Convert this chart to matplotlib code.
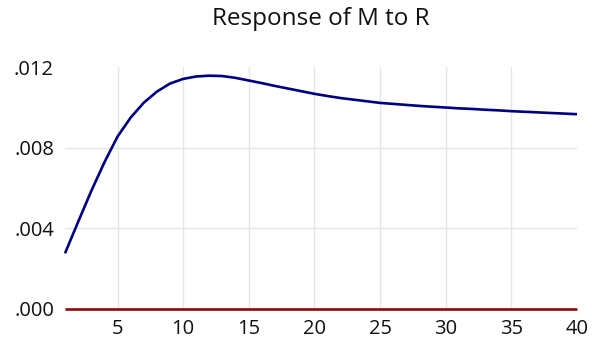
import matplotlib
matplotlib.use("Agg")
import matplotlib.pyplot as plt
import numpy as np

plt.rcParams['font.family'] = ['Open Sans', 'DejaVu Sans']

periods = list(range(1, 41))
response = [0.00276, 0.00432, 0.00585, 0.00727, 0.00855, 0.00949, 0.01023, 0.01078,
            0.01118, 0.01141, 0.01153, 0.01157, 0.01155, 0.01146, 0.01133, 0.01120,
            0.01106, 0.01093, 0.01080, 0.01067, 0.01056, 0.01046, 0.01038, 0.01030,
            0.01022, 0.01017, 0.01012, 0.01007, 0.01003, 0.00999, 0.00995, 0.00992,
            0.00988, 0.00985, 0.00981, 0.00978, 0.00975, 0.00972, 0.00969, 0.00966]
zero_line = [0.0] * len(periods)
x_ticks = [5, 10, 15, 20, 25, 30, 35, 40]
y_ticks = [0.000, 0.004, 0.008, 0.012]
y_tick_labels = ['.000', '.004', '.008', '.012']
title = "Response of M to R"

W, H = 592, 342
fig = plt.figure(figsize=(W / 100, H / 100), dpi=100)
ax = fig.add_axes([65 / W, 1 - 309 / H, (577 - 65) / W, (309 - 67) / H])

grid_color = '#e6e6e6'
for xv in x_ticks[:-1]:
    ax.axvline(xv, color=grid_color, lw=1.0, zorder=0)
for yv in y_ticks[1:-1]:
    ax.axhline(yv, color=grid_color, lw=1.0, zorder=0)

ax.plot(periods, zero_line, color='#8b0a0a', lw=1.9, zorder=2, solid_capstyle='butt',
        clip_on=False)
ax.plot(periods, response, color='#000080', lw=1.9, zorder=3, solid_capstyle='butt',
        solid_joinstyle='round', clip_on=False)

ax.set_xlim(1, 40)
ax.set_ylim(0, 0.012)
ax.set_xticks(x_ticks)
ax.set_xticklabels([str(t) for t in x_ticks])
ax.set_yticks(y_ticks)
ax.set_yticklabels(y_tick_labels)
ax.tick_params(axis='both', length=0, labelsize=14.5, colors='#111111')
ax.tick_params(axis='x', pad=7)
ax.tick_params(axis='y', pad=8)
for s in ax.spines.values():
    s.set_visible(False)

fig.text(321 / W, 1 - 19 / H, title, ha='center', va='center', fontsize=17.5, color='#111111')

fig.savefig('out.png', dpi=100)
